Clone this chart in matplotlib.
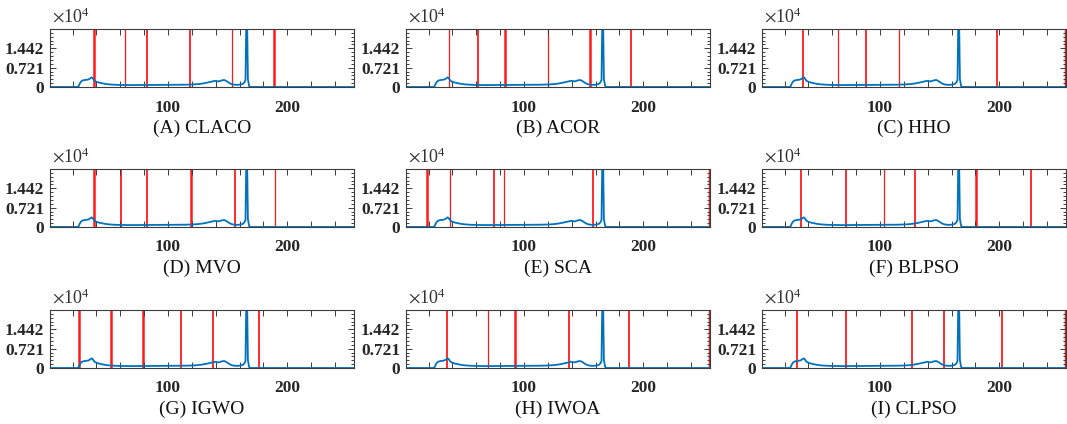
import matplotlib
matplotlib.use("Agg")
import matplotlib.pyplot as plt
from matplotlib.ticker import FixedLocator, MultipleLocator

# ---------------- data ----------------
gray_levels = list(range(1, 257))
hist_counts = (
    [0] * 24
    + [300, 1300, 2000, 2350, 2500, 2600, 2650, 2700, 2800, 3000, 3300, 3600,
       3200, 2500, 2150, 1950, 1800, 1650, 1550, 1450, 1350, 1250, 1180, 1110,
       1050, 1000, 960, 920, 890, 860, 840, 820, 800, 790, 770, 760]
    + [750, 740, 760, 730, 720, 740, 710, 730, 720, 700, 720, 740, 710, 720,
       730, 750, 720, 740, 760, 730, 750, 770, 740, 760, 780, 750, 770, 790,
       760, 780, 800, 770, 790, 810, 780, 800, 820, 790, 810, 830]
    + [800, 820, 840, 810, 830, 850, 820, 840, 860, 830, 850, 870, 840, 860,
       880, 870, 890, 910, 900, 930, 950, 980, 1000, 1040, 1080, 1120, 1170,
       1230, 1300, 1380]
    + [1450, 1550, 1650, 1750, 1850, 1950, 2050, 2150, 2250, 2300, 2200, 2100,
       2150, 2300, 2450, 2550, 2600, 2450, 2200, 1900]
    + [1600, 1350, 1150, 1000, 900, 850, 820, 800, 820, 880, 950, 1050, 1250, 1700]
    + [2600, 36000, 3000, 400, 0, 0]
    + [0] * 86
)

panel_titles = ["(A) CLACO", "(B) ACOR", "(C) HHO",
                "(D) MVO", "(E) SCA", "(F) BLPSO",
                "(G) IGWO", "(H) IWOA", "(I) CLPSO"]

thr_A = [37.8, 63.9, 82.5, 118.3, 153.3, 188.9]
thr_B = [36.9, 61.7, 84.2, 120.0, 155.0, 189.7]
thr_C = [35.0, 64.7, 88.6, 115.6, 197.8, 255.0]
thr_D = [37.8, 60.8, 82.5, 119.2, 156.1, 189.7]
thr_E = [18.9, 37.5, 74.4, 82.8, 158.1, 255.0]
thr_F = [33.9, 71.7, 103.6, 129.7, 180.6, 226.4]
thr_G = [25.3, 51.9, 78.6, 110.6, 138.1, 176.4]
thr_H = [35.6, 69.4, 92.2, 138.1, 188.3, 255.0]
thr_I = [30.6, 71.7, 127.2, 153.6, 202.2, 255.0]
thresholds = [thr_A, thr_B, thr_C, thr_D, thr_E, thr_F, thr_G, thr_H, thr_I]

y_ticks = [0, 7210, 14420]
y_tick_labels = ["0", "0.721", "1.442"]
x_ticks = [100, 200]

# ---------------- styles ----------------
line_widths = [
    [1.8, 0.9, 1.3, 1.3, 0.9, 1.8],
    [0.9, 1.3, 1.8, 0.9, 1.8, 1.3],
    [1.3, 0.9, 1.3, 0.9, 1.3, 1.0],
    [1.8, 1.3, 1.3, 1.8, 1.3, 0.9],
    [1.8, 0.9, 1.3, 0.9, 1.3, 1.0],
    [1.3, 1.3, 0.9, 1.3, 1.8, 1.3],
    [1.8, 1.8, 1.8, 1.3, 1.3, 1.3],
    [1.3, 0.9, 1.8, 1.3, 1.3, 1.0],
    [1.3, 1.3, 1.3, 1.3, 1.3, 1.0],
]

plt.rcParams["font.family"] = ["Liberation Serif", "DejaVu Serif"]
plt.rcParams["mathtext.fontset"] = "stix"

W, H = 1067, 424
fig = plt.figure(figsize=(W / 100, H / 100), dpi=100)

col_left = [50, 406, 762]
row_top = [29, 169, 310]
ax_w, ax_h = 304, 58

frame_col = "#3c3c3c"
blue = "#0072BD"
red = "#FF1A1A"

for i in range(9):
    r, c = divmod(i, 3)
    ax = fig.add_axes([col_left[c] / W, 1 - (row_top[r] + ax_h) / H, ax_w / W, ax_h / H])
    for t, lw in zip(thresholds[i], line_widths[i]):
        ax.axvline(t, color=red, lw=lw, zorder=1.5)
    ax.plot(gray_levels, hist_counts, color=blue, lw=1.3, zorder=3)
    ax.set_xlim(1, 256)
    ax.set_ylim(0, 21630)
    ax.xaxis.set_major_locator(FixedLocator(x_ticks))
    ax.xaxis.set_minor_locator(MultipleLocator(20))
    ax.yaxis.set_major_locator(FixedLocator(y_ticks))
    ax.yaxis.set_minor_locator(MultipleLocator(1442))
    ax.set_yticklabels(y_tick_labels)
    ax.tick_params(which="both", direction="in", top=True, right=True,
                   color=frame_col, width=0.7, labelcolor="#262626", labelsize=12.5)
    ax.tick_params(which="major", length=4)
    ax.tick_params(which="minor", length=2.5)
    ax.tick_params(axis="x", which="minor", length=4)
    ax.tick_params(axis="x", pad=9)
    ax.tick_params(axis="y", pad=4)
    for lab in ax.get_xticklabels() + ax.get_yticklabels():
        lab.set_fontweight("bold")
    for sp in ax.spines.values():
        sp.set_color(frame_col)
        sp.set_linewidth(0.8)
        sp.set_zorder(4)
    ax.text(0.005, 1.2, r"$\times\mathregular{10^{4}}$", transform=ax.transAxes,
            ha="left", va="center", fontsize=13, color="#333333")
    ax.text(0.5, -0.72, panel_titles[i], transform=ax.transAxes,
            ha="center", va="center", fontsize=14, color="#111111")

fig.savefig("out.png", dpi=100)
